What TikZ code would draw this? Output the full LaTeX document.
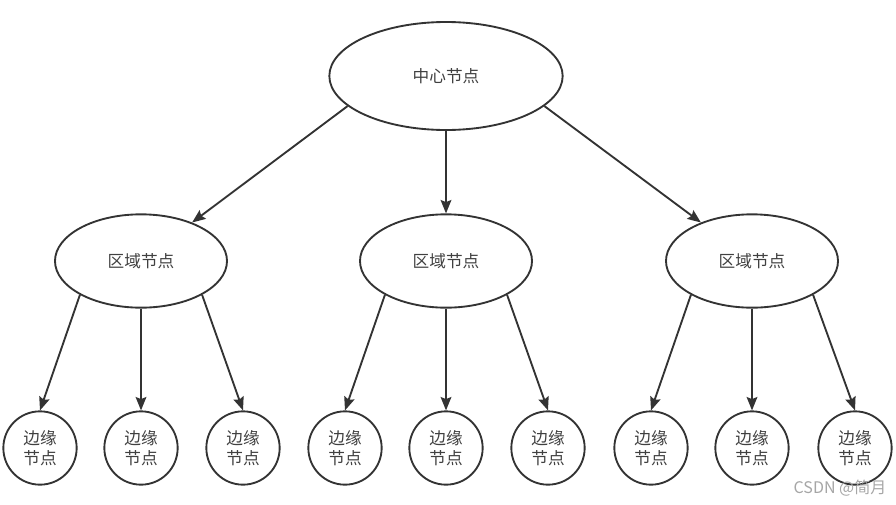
\documentclass[tikz,border=0pt]{standalone}
\usepackage{fontspec}
\setmainfont{Noto Sans CJK SC}
\usetikzlibrary{shapes.geometric,arrows.meta}
\tikzset{
  hub/.style={draw=black!80, line width=1.4pt, ellipse, text=black!75, font=\fontsize{12.5}{15}\selectfont},
  leaf/.style={draw=black!80, line width=1.4pt, circle, minimum size=55pt, inner sep=0pt, align=center, text=black!75, font=\fontsize{12.5}{15}\selectfont},
  link/.style={draw=black!80, line width=1.4pt, -{Stealth[length=10pt,width=8pt,inset=1.5pt]}},
}
\begin{document}
\begin{tikzpicture}[x=0.75pt,y=0.75pt,yscale=-1,xscale=1]
\useasboundingbox (0,0) rectangle (896,504);

%Shape: Ellipse [center]
\node [hub, minimum width=175pt, minimum height=81pt] (center) at (446,76) {中心节点};
%Shape: Ellipse [regions]
\node [hub, minimum width=129pt, minimum height=70pt] (regA) at (141,261) {区域节点};
\node [hub, minimum width=129pt, minimum height=70pt] (regB) at (446,261) {区域节点};
\node [hub, minimum width=129pt, minimum height=70pt] (regC) at (752,261) {区域节点};

%Shape: Circle [edges]
\foreach \n/\x in {a1/40,a2/141,a3/243,b1/345,b2/446,b3/548,c1/651,c2/752,c3/855}
  \node [leaf] (\n) at (\x,448) {边缘\\节点};

%Straight Lines [center to regions]
\draw [link] (center.197) -- (regA.37);
\draw [link] (center.south) -- (regB.north);
\draw [link] (center.-17) -- (regC.143);

%Straight Lines [regions to edges]
\foreach \r/\n in {regA/a,regB/b,regC/c}{
  \draw [link] (\r.209) -- (\n1.north);
  \draw [link] (\r.south) -- (\n2.north);
  \draw [link] (\r.-29) -- (\n3.north);
}

% Text Node
\node [text=black!35, font=\fontsize{12}{14}\selectfont, anchor=east] (mark) at (891,488) {CSDN @简月};

\end{tikzpicture}
\end{document}
